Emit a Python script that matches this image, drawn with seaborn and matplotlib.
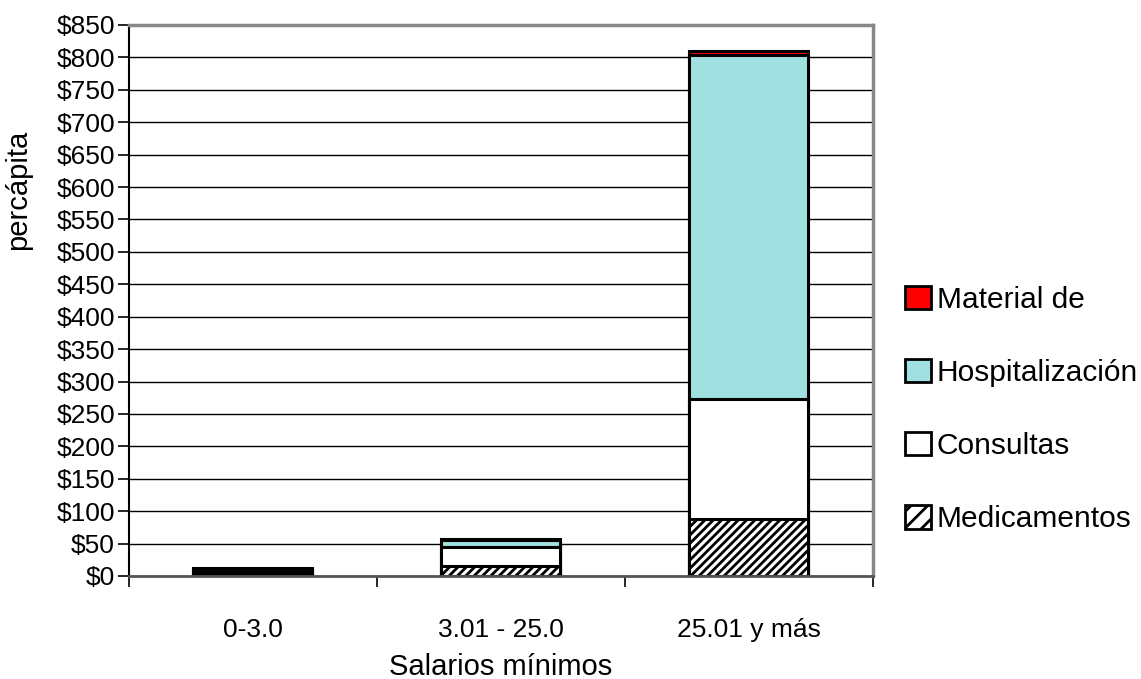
import numpy as np
import pandas as pd
import matplotlib
matplotlib.use('Agg')
import matplotlib.pyplot as plt
from matplotlib.patches import Patch
import seaborn as sns

# Data
grupos = ['0-3.0', '3.01 - 25.0', '25.01 y más']
medicamentos = [5, 15, 88]
consultas = [5, 30, 185]
hospitalizacion = [1, 10, 531]
material = [1, 2, 6]

y_ticks = list(range(0, 851, 50))

sns.set_theme(style='white')
plt.rcParams['font.family'] = ['Liberation Sans', 'DejaVu Sans']
plt.rcParams['hatch.linewidth'] = 2.0
for key in ['text.color', 'axes.labelcolor', 'xtick.color', 'ytick.color']:
    plt.rcParams[key] = 'black'

df = pd.DataFrame({
    'grupo': grupos,
    'Medicamentos': medicamentos,
    'Consultas': consultas,
    'Hospitalización': hospitalizacion,
    'Material de': material,
})
# cumulative heights, drawn from the tallest layer down
df['c_med'] = df['Medicamentos']
df['c_con'] = df['c_med'] + df['Consultas']
df['c_hos'] = df['c_con'] + df['Hospitalización']
df['c_mat'] = df['c_hos'] + df['Material de']

fig = plt.figure(figsize=(11.41, 6.79), dpi=100)
ax = fig.add_axes([0.113, 0.1517, 0.652, 0.8115])

layers = [
    ('c_mat', '#FF0000', ''),
    ('c_hos', '#A0E0E0', ''),
    ('c_con', '#FFFFFF', ''),
    ('c_med', '#FFFFFF', '////'),
]
for col, color, hatch in layers:
    n_before = len(ax.patches)
    sns.barplot(data=df, x='grupo', y=col, color=color, width=0.48,
                edgecolor='black', linewidth=2.2, saturation=1, ax=ax)
    for p in ax.patches[n_before:]:
        p.set_facecolor(color)
        p.set_hatch(hatch)

ax.set_xlim(-0.5, 2.5)
ax.set_ylim(0, 850)
ax.set_yticks(y_ticks)
ax.set_yticklabels(['$%d' % v for v in y_ticks])
ax.yaxis.grid(True, color='black', linewidth=1)
ax.set_axisbelow(True)

ax.set_xticks([-0.5, 0.5, 1.5, 2.5], minor=True)
ax.tick_params(axis='x', which='major', length=0, pad=30, labelsize=19)
ax.tick_params(axis='x', which='minor', length=8, width=1.2, color='black', bottom=True)
ax.tick_params(axis='y', length=8, width=1.2, color='black', left=True, labelsize=19, pad=2)

ax.set_xlabel('Salarios mínimos', fontsize=21, labelpad=8)
ax.set_ylabel('percápita', fontsize=21)
ax.yaxis.set_label_coords(-0.13, 0.70)

for side in ['top', 'right']:
    ax.spines[side].set_color('#888888')
    ax.spines[side].set_linewidth(2.5)
ax.spines['left'].set_color('black')
ax.spines['left'].set_linewidth(1.5)
ax.spines['bottom'].set_color('#555555')
ax.spines['bottom'].set_linewidth(2)

handles = [
    Patch(facecolor='#FF0000', edgecolor='black', linewidth=2, label='Material de'),
    Patch(facecolor='#A0E0E0', edgecolor='black', linewidth=2, label='Hospitalización'),
    Patch(facecolor='#FFFFFF', edgecolor='black', linewidth=2, label='Consultas'),
    Patch(facecolor='#FFFFFF', edgecolor='black', linewidth=2, hatch='//', label='Medicamentos'),
]
fig.legend(handles=handles, loc='upper left', bbox_to_anchor=(0.783, 0.597),
           frameon=False, fontsize=21.5, handlelength=0.85, handleheight=0.85,
           handletextpad=0.2, labelspacing=1.5, borderaxespad=0)

fig.savefig('out.png', dpi=100)
